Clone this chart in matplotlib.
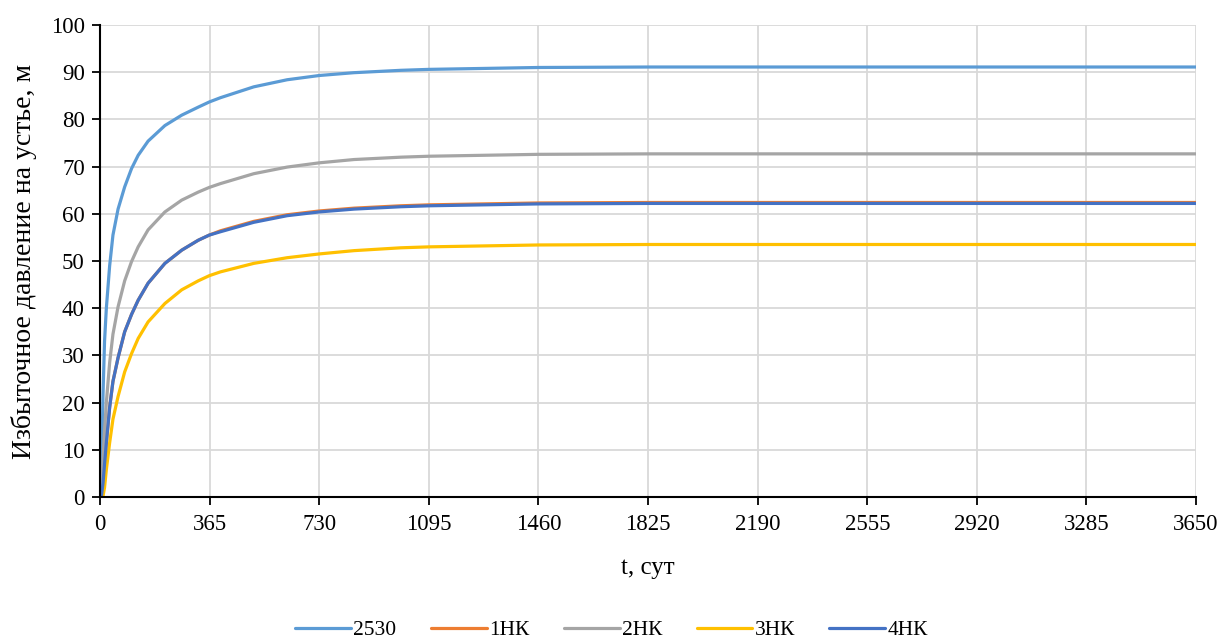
import matplotlib
matplotlib.use("Agg")
import matplotlib.pyplot as plt

plt.rcParams['font.family'] = ['Liberation Serif', 'DejaVu Serif']

t = [0, 5, 10, 15, 21, 32, 43, 60, 82, 105, 127, 160, 216, 272, 327, 364,
     401, 512, 623, 730, 846, 1002, 1096, 1461, 1830, 2190, 2555, 2920,
     3285, 3650]
s2530 = [0, 5.0, 22.0, 33.0, 40.0, 49.0, 55.5, 61.0, 65.7, 69.6, 72.4, 75.4,
         78.7, 80.9, 82.6, 83.7, 84.6, 86.9, 88.4, 89.3, 89.9, 90.4, 90.6,
         91.0, 91.1, 91.1, 91.1, 91.1, 91.1, 91.1]
s2HK = [0, 2.0, 8.0, 14.0, 20.0, 28.5, 34.5, 40.3, 45.8, 49.9, 53.0, 56.6,
        60.4, 62.9, 64.6, 65.6, 66.4, 68.5, 69.9, 70.8, 71.5, 72.0, 72.2,
        72.6, 72.7, 72.7, 72.7, 72.7, 72.7, 72.7]
s1HK = [0, 0.5, 3.0, 7.0, 11.5, 19.0, 24.5, 29.5, 35.0, 38.7, 41.7, 45.3,
        49.5, 52.3, 54.4, 55.5, 56.4, 58.4, 59.8, 60.6, 61.2, 61.7, 61.9,
        62.3, 62.4, 62.4, 62.4, 62.4, 62.4, 62.4]
s3HK = [0, 0, 0.2, 2.0, 5.8, 11.5, 16.5, 21.3, 26.5, 30.4, 33.6, 37.1,
        41.0, 43.9, 45.8, 46.9, 47.7, 49.5, 50.7, 51.5, 52.2, 52.8, 53.0,
        53.4, 53.5, 53.5, 53.5, 53.5, 53.5, 53.5]
s4HK = [0, 0.5, 3.0, 7.0, 11.5, 19.0, 24.5, 29.5, 35.0, 38.7, 41.7, 45.3,
        49.5, 52.3, 54.4, 55.5, 56.2, 58.2, 59.6, 60.4, 61.0, 61.5, 61.7,
        62.1, 62.2, 62.2, 62.2, 62.2, 62.2, 62.2]

series = [("2530", s2530, "#5B9BD5"),
          ("1НК", s1HK, "#ED7D31"),
          ("2НК", s2HK, "#A5A5A5"),
          ("3НК", s3HK, "#FFC000"),
          ("4НК", s4HK, "#4472C4")]

xticks = list(range(0, 3651, 365))
yticks = list(range(0, 101, 10))

fig = plt.figure(figsize=(12.23, 6.41), dpi=100)
ax = fig.add_axes([0.0818, 0.2246, 0.8962, 0.7364])

for name, vals, col in series:
    ax.plot(t, vals, color=col, lw=2.3, label=name,
            solid_capstyle='round', solid_joinstyle='round')

ax.set_xlim(0, 3650)
ax.set_ylim(0, 100)
ax.set_xticks(xticks)
ax.set_yticks(yticks)
ax.grid(True, color='#d9d9d9', lw=1.3)
ax.set_axisbelow(True)
for sp in ['top', 'right']:
    ax.spines[sp].set_visible(False)
for sp in ['left', 'bottom']:
    ax.spines[sp].set_linewidth(1.5)
    ax.spines[sp].set_color('black')
ax.tick_params(axis='both', direction='out', length=6, width=1.3,
               labelsize=16.5, colors='black')
ax.tick_params(axis='x', pad=6)
ax.tick_params(axis='y', pad=5)
ax.set_xlabel("t, сут", fontsize=18, labelpad=16)
ax.set_ylabel("Избыточное давление на устье, м", fontsize=20, labelpad=10)

fig.legend(loc='center', bbox_to_anchor=(0.5, 0.017), ncol=5, frameon=False,
           fontsize=15.5, handlelength=2.6, columnspacing=1.6, handletextpad=0.1)

fig.savefig("out.png", dpi=100)
